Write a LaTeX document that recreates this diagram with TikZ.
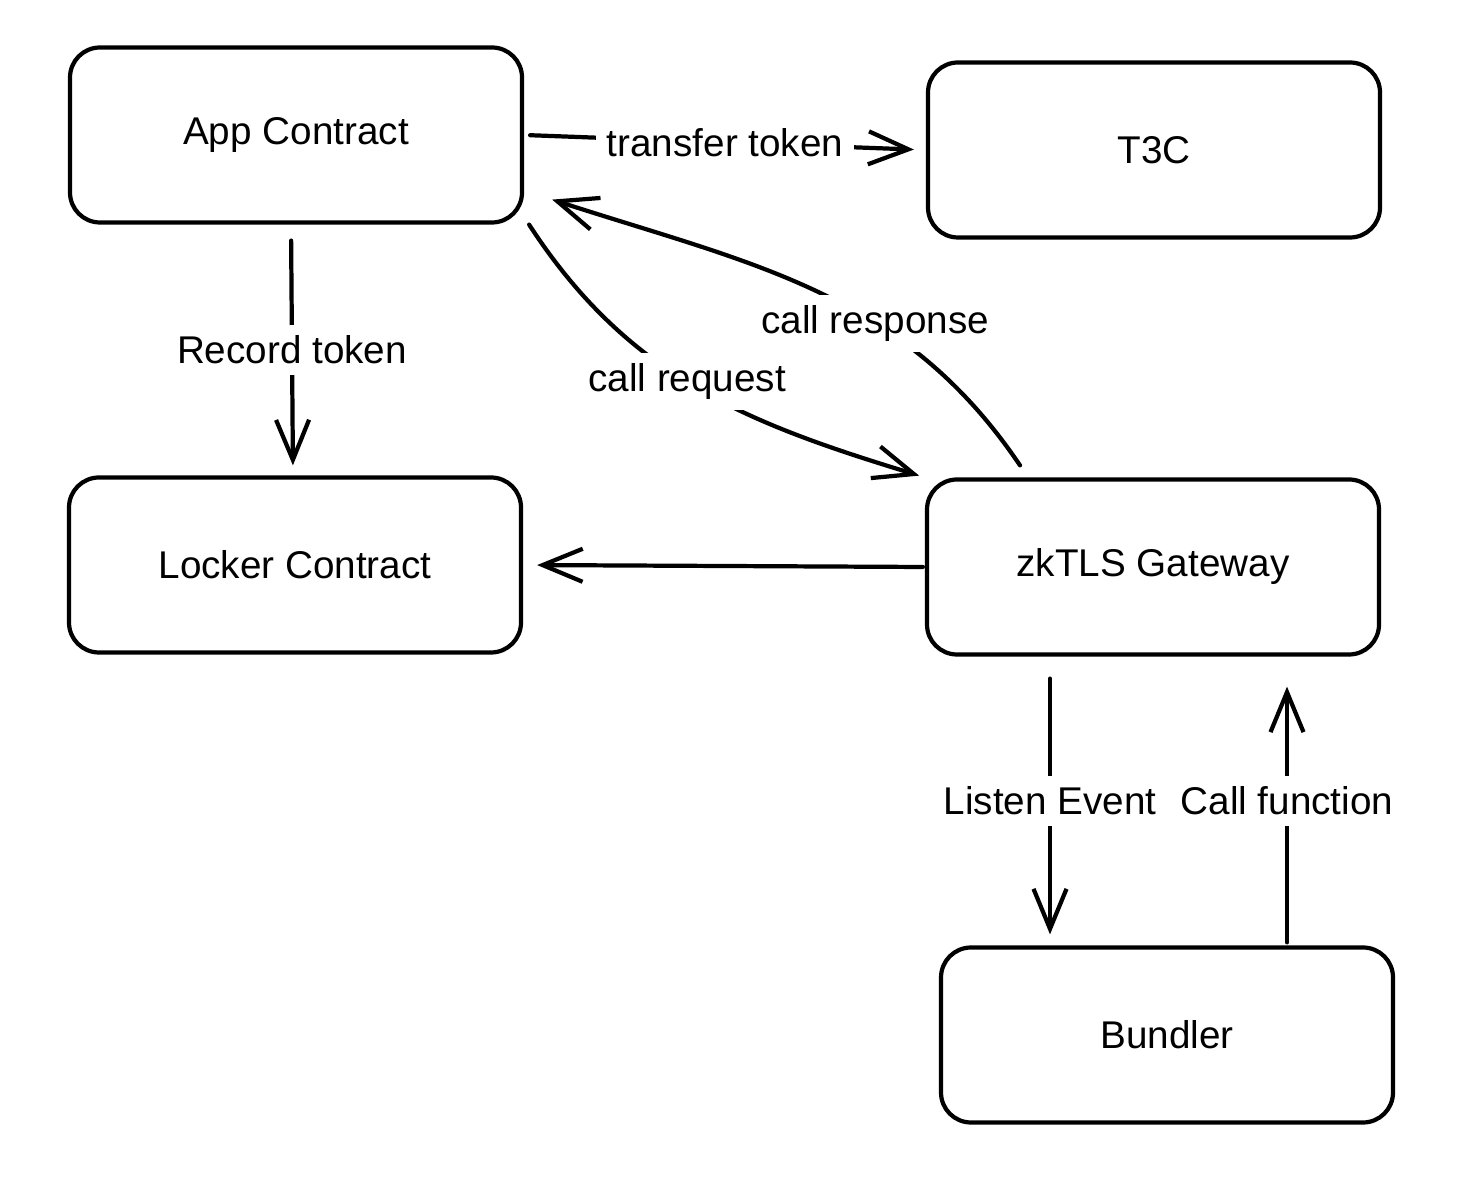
\documentclass[tikz,border=0pt]{standalone}
\usepackage{fontspec}
\setmainfont{Liberation Sans}
\usepackage{tikz}
\usetikzlibrary{arrows.meta,positioning}

\begin{document}
\begin{tikzpicture}[
  every node/.style={font=\fontsize{11}{13}\selectfont},
  block/.style={draw,line width=1.2pt,rounded corners=0.3cm,
                minimum width=4.52cm,minimum height=1.75cm,align=center},
  arr/.style={-{Straight Barb[length=4mm,width=3.3mm]},line width=1.2pt,
              line cap=round},
  lbl/.style={fill=white,inner sep=3pt},
]
\useasboundingbox (0,0) rectangle (14.78,11.92);

%% ── Contracts ────────────────────────────────────────────────────────────
\node[block] (app)    at (2.96,10.57) {App Contract};
\node[block] (t3c)    at (11.54,10.42) {T3C};
\node[block] (locker) at (2.95,6.27) {Locker Contract};

%% ── Off-chain side ───────────────────────────────────────────────────────
\node[block] (gw)      at (11.53,6.25) {zkTLS Gateway};
\node[block] (bundler) at (11.67,1.57) {Bundler};

%% ── Connections ──────────────────────────────────────────────────────────
%% App contract → T3C
\draw[arr,shorten <=0.06cm,shorten >=0.12cm] (app.east) --
  node[lbl]{transfer token} (t3c.west);

%% App contract → Locker
\draw[arr,shorten <=0.16cm,shorten >=0.1cm] ([xshift=-0.05cm]app.south) --
  node[lbl]{Record token} ([xshift=-0.02cm]locker.north);

%% request / response between App contract and gateway
\draw[arr,shorten >=0.06cm] ([xshift=0.05cm]app.south east) to[out=-57,in=163]
  node[lbl,pos=0.47]{call request} (gw.north west);
\draw[arr] ([xshift=-1.33cm,yshift=0.12cm]gw.north) to[out=124,in=-18]
  node[lbl,pos=0.37]{call response} ([xshift=0.28cm,yshift=0.25cm]app.south east);

%% Gateway → Locker
\draw[arr,shorten <=0.02cm,shorten >=0.14cm] (gw.west) -- (locker.east);

%% Gateway ↔ Bundler
\draw[arr,shorten <=0.22cm,shorten >=0.11cm] ([xshift=-1.03cm]gw.south) --
  node[lbl]{Listen Event} ([xshift=-1.03cm]gw.south |- bundler.north);
\draw[arr,shorten <=0.03cm,shorten >=0.3cm] ([xshift=1.2cm]bundler.north) --
  node[lbl]{Call function} ([xshift=1.2cm]bundler.north |- gw.south);

\end{tikzpicture}
\end{document}
